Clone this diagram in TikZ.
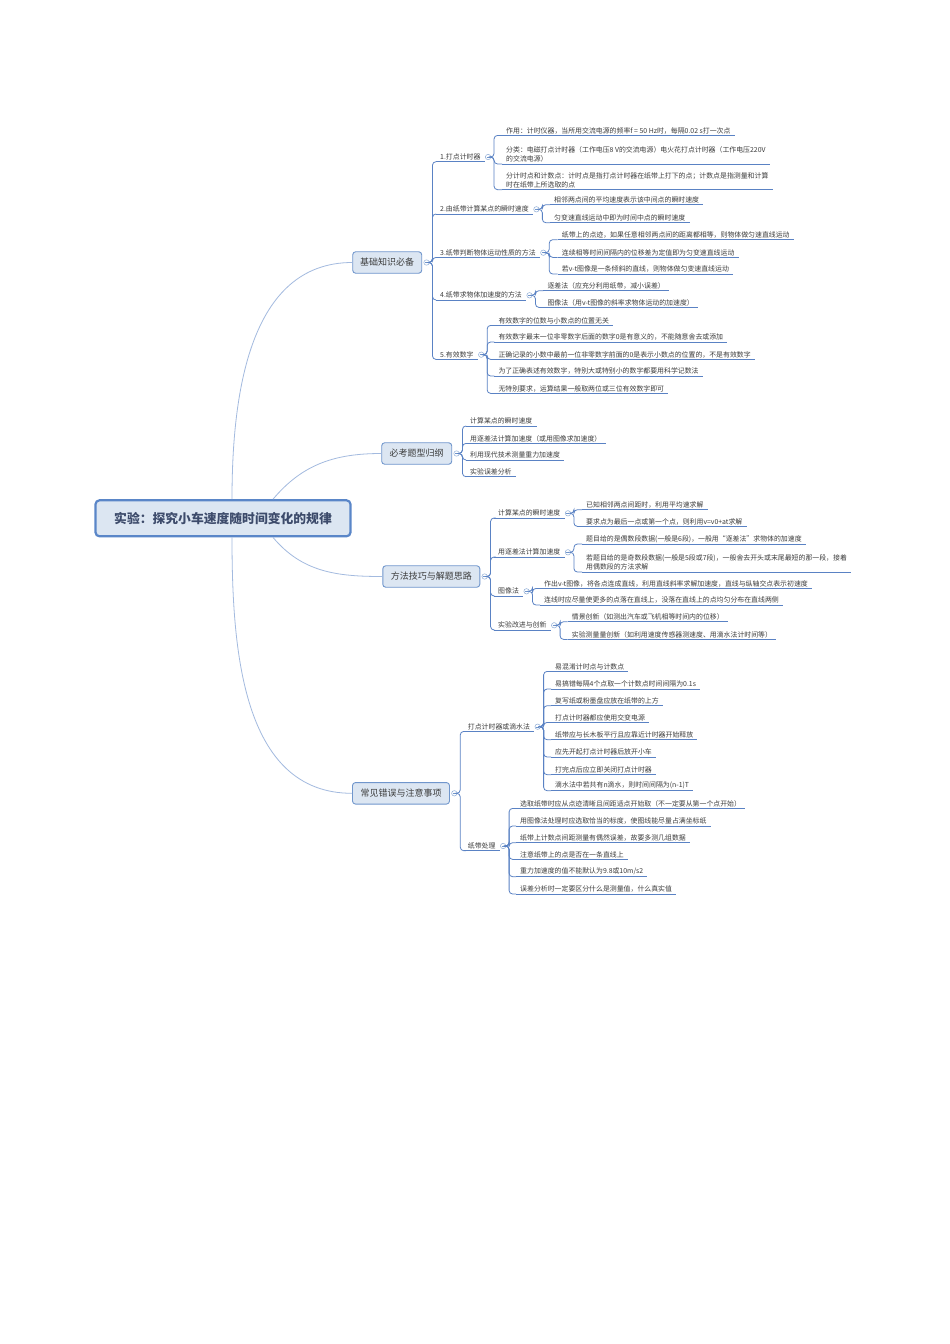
\documentclass[tikz,border=0pt]{standalone}
\usepackage{fontspec}
\setmainfont{Noto Sans CJK SC}
\usepackage{xcolor}
\usetikzlibrary{
    positioning,
    calc
}
\definecolor{boxfill}{HTML}{DCE6F2}
\definecolor{boxline}{HTML}{7096CC}
\definecolor{rootline}{HTML}{5A86C8}
\definecolor{linkblue}{HTML}{5A82C4}
\definecolor{trunkblue}{HTML}{A3BADF}
\definecolor{ink}{HTML}{3C3C3C}
\definecolor{rootink}{HTML}{3D4B6B}
\tikzset{%
    % Specifications for style of nodes:
    plain/.style = {},
    base/.style = {
        plain,
        rectangle, rounded corners=3pt, draw=boxline, line width=0.9pt,
        fill=boxfill, text=ink, font=\fontsize{9}{11}\selectfont,
        minimum height=21.5pt, inner xsep=7.5pt, align=center
    },
    rootbox/.style = {base, draw=rootline, line width=2.2pt, rounded corners=4pt,
        text=rootink, font=\fontsize{12.8}{15}\selectfont\bfseries,
        minimum width=255pt, minimum height=36pt},
    leaf/.style = {
        anchor=south west, inner xsep=4pt, inner ysep=1.3pt,
        text=ink, font=\fontsize{6.9}{9.6}\selectfont, align=left,
        append after command={(\tikzlastnode.south west)
            edge[draw=linkblue, line width=0.8pt] (\tikzlastnode.south east)}
    },
    topic/.style = {leaf},
    fold/.style = {
        circle, draw=boxline!80, fill=white, line width=0.5pt,
        inner sep=0pt, minimum size=5.4pt,
        path picture={\draw[boxline, line width=0.4pt]
            ([xshift=1.2pt]path picture bounding box.west) --
            ([xshift=-1.2pt]path picture bounding box.east);}
    },
    link/.style = {draw=linkblue, line width=0.8pt, rounded corners=3.5pt},
    trunk/.style = {draw=trunkblue, line width=0.8pt}
}

\begin{document}
\begin{tikzpicture}[x=1pt, y=1pt]
\fill[white] (0,0) rectangle (950,-1344);
\useasboundingbox (0,0) rectangle (950,-1344);

% root and main branches
\node[rootbox] (root) at (223,-518.3) {实验：探究小车速度随时间变化的规律};
\node[base, minimum width=69pt] (basic) at (387.2,-262.5) {基础知识必备};
\node[base, minimum width=70pt] (types) at (416.7,-453.5) {必考题型归纲};
\node[base, minimum width=97pt] (method) at (431.3,-576.5) {方法技巧与解题思路};
\node[base, minimum width=97pt] (errors) at (401,-793.3) {常见错误与注意事项};
\node[fold, right=1.4pt of basic] (fbasic) {};
\node[fold, right=1.4pt of types] (ftypes) {};
\node[fold, right=1.4pt of method] (fmethod) {};
\node[fold, right=1.4pt of errors] (ferrors) {};

\draw[trunk] ($(root.north)+(9,0)$) to[out=90, in=180] (basic.west);
\draw[trunk] ($(root.north)+(50,0)$) to[out=50, in=180] (types.west);
\draw[trunk] ($(root.south)+(50,0)$) to[out=-50, in=180] (method.west);
\draw[trunk] ($(root.south)+(9,0)$) to[out=-90, in=180] (errors.west);

% 基础知识必备
\node[topic] (b1) at (436,-161.7) {1.打点计时器};
\node[topic] (b2) at (436,-214) {2.由纸带计算某点的瞬时速度};
\node[topic] (b3) at (436,-257.4) {3.纸带判断物体运动性质的方法};
\node[topic] (b4) at (436,-300) {4.纸带求物体加速度的方法};
\node[topic] (b5) at (436,-359.4) {5.有效数字};
\foreach \n in {b1,b2,b3,b4,b5}
    \node[fold, right=0.5pt of \n] (f\n) {};

\node[leaf] (b1a) at (502,-135.4) {作用：计时仪器，当所用交流电源的频率f = 50 Hz时，每隔0.02 s打一次点};
\node[leaf] (b1b) at (502,-164) {分类：电磁打点计时器（工作电压8 V的交流电源）电火花打点计时器（工作电压220V\\的交流电源）};
\node[leaf] (b1c) at (502,-189.7) {分计时点和计数点：计时点是指打点计时器在纸带上打下的点；计数点是指测量和计算\\时在纸带上所选取的点};
\node[leaf] (b2a) at (550,-204.7) {相邻两点间的平均速度表示该中间点的瞬时速度};
\node[leaf] (b2b) at (550,-222.7) {匀变速直线运动中即为时间中点的瞬时速度};
\node[leaf] (b3a) at (557.7,-239.7) {纸带上的点迹，如果任意相邻两点间的距离都相等，则物体做匀速直线运动};
\node[leaf] (b3b) at (557.7,-257.4) {连续相等时间间隔内的位移差为定值即为匀变速直线运动};
\node[leaf] (b3c) at (557.7,-274) {若v-t图像是一条倾斜的直线，则物体做匀变速直线运动};
\node[leaf] (b4a) at (543.3,-290.7) {逐差法（应充分利用纸带，减小误差）};
\node[leaf] (b4b) at (543.3,-307.4) {图像法（用v-t图像的斜率求物体运动的加速度）};
\node[leaf] (b5a) at (494.3,-325.4) {有效数字的位数与小数点的位置无关};
\node[leaf] (b5b) at (494.3,-342) {有效数字最末一位非零数字后面的数字0是有意义的，不能随意舍去或添加};
\node[leaf] (b5c) at (494.3,-359.4) {正确记录的小数中最前一位非零数字前面的0是表示小数点的位置的，不是有效数字};
\node[leaf] (b5d) at (494.3,-376) {为了正确表述有效数字，特别大或特别小的数字都要用科学记数法};
\node[leaf] (b5e) at (494.3,-393.4) {无特别要求，运算结果一般取两位或三位有效数字即可};

% 必考题型归纲
\node[leaf] (t1) at (466,-426) {计算某点的瞬时速度};
\node[leaf] (t2) at (466,-443.4) {用逐差法计算加速度（或用图像求加速度）};
\node[leaf] (t3) at (466,-460) {利用现代技术测量重力加速度};
\node[leaf] (t4) at (466,-476.7) {实验误差分析};

% 方法技巧与解题思路
\node[topic] (m1) at (494,-518) {计算某点的瞬时速度};
\node[topic] (m2) at (494,-557) {用逐差法计算加速度};
\node[topic] (m3) at (494,-596) {图像法};
\node[topic] (m4) at (494,-630) {实验改进与创新};
\foreach \n in {m1,m2,m3,m4}
    \node[fold, right=0.5pt of \n] (f\n) {};

\node[leaf] (m1a) at (582,-509.7) {已知相邻两点间距时，利用平均速求解};
\node[leaf] (m1b) at (582,-526.4) {要求点为最后一点或第一个点，则利用v=v0+at求解};
\node[leaf] (m2a) at (582,-544) {题目给的是偶数段数据(一般是6段)，一般用“逐差法”求物体的加速度};
\node[leaf] (m2b) at (582,-572) {若题目给的是奇数段数据(一般是5段或7段)，一般舍去开头或末尾最短的那一段，接着\\用偶数段的方法求解};
\node[leaf] (m3a) at (540,-588.4) {作出v-t图像，将各点连成直线，利用直线斜率求解加速度，直线与纵轴交点表示初速度};
\node[leaf] (m3b) at (540,-605) {连线时应尽量使更多的点落在直线上，没落在直线上的点均匀分布在直线两侧};
\node[leaf] (m4a) at (567.7,-621.7) {情景创新（如测出汽车或飞机相等时间内的位移）};
\node[leaf] (m4b) at (567.7,-639.4) {实验测量量创新（如利用速度传感器测速度、用滴水法计时间等）};

% 常见错误与注意事项
\node[topic] (e1) at (463.7,-731.4) {打点计时器或滴水法};
\node[topic] (e2) at (463.7,-850.7) {纸带处理};
\foreach \n in {e1,e2}
    \node[fold, right=0.5pt of \n] (f\n) {};

\node[leaf] (e1a) at (551,-671.4) {易混淆计时点与计数点};
\node[leaf] (e1b) at (551,-689) {易搞错每隔4个点取一个计数点时间间隔为0.1s};
\node[leaf] (e1c) at (551,-705.7) {复写纸或粉墨盘应放在纸带的上方};
\node[leaf] (e1d) at (551,-722.4) {打点计时器都应使用交变电源};
\node[leaf] (e1e) at (551,-739.7) {纸带应与长木板平行且应靠近计时器开始释放};
\node[leaf] (e1f) at (551,-757) {应先开起打点计时器后放开小车};
\node[leaf] (e1g) at (551,-774.7) {打完点后应立即关闭打点计时器};
\node[leaf] (e1h) at (551,-790.7) {滴水法中若共有n滴水，则时间间隔为(n-1)T};
\node[leaf] (e2a) at (516,-808.4) {选取纸带时应从点迹清晰且间距适点开始取（不一定要从第一个点开始）};
\node[leaf] (e2b) at (516,-826) {用图像法处理时应选取恰当的标度，使图线能尽量占满坐标纸};
\node[leaf] (e2c) at (516,-842.7) {纸带上计数点间距测量有偶然误差，故要多测几组数据};
\node[leaf] (e2d) at (516,-859.4) {注意纸带上的点是否在一条直线上};
\node[leaf] (e2e) at (516,-876.7) {重力加速度的值不能默认为9.8或10m/s2};
\node[leaf] (e2f) at (516,-894) {误差分析时一定要区分什么是测量值，什么真实值};

% connectors from fold circles to children
\foreach \p/\c in {fbasic/b1, fbasic/b2, fbasic/b3, fbasic/b4, fbasic/b5,
    fb1/b1a, fb1/b1b, fb1/b1c, fb2/b2a, fb2/b2b,
    fb3/b3a, fb3/b3b, fb3/b3c, fb4/b4a, fb4/b4b,
    fb5/b5a, fb5/b5b, fb5/b5c, fb5/b5d, fb5/b5e,
    ftypes/t1, ftypes/t2, ftypes/t3, ftypes/t4,
    fmethod/m1, fmethod/m2, fmethod/m3, fmethod/m4,
    fm1/m1a, fm1/m1b, fm2/m2a, fm2/m2b, fm3/m3a, fm3/m3b, fm4/m4a, fm4/m4b,
    ferrors/e1, ferrors/e2,
    fe1/e1a, fe1/e1b, fe1/e1c, fe1/e1d, fe1/e1e, fe1/e1f, fe1/e1g, fe1/e1h,
    fe2/e2a, fe2/e2b, fe2/e2c, fe2/e2d, fe2/e2e, fe2/e2f}
    \draw[link] (\p.east) -- ++(3,0) |- (\c.south west);
\end{tikzpicture}
\end{document}
